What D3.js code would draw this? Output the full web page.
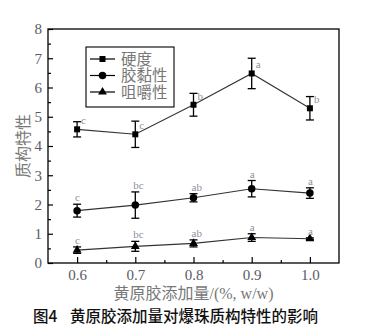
<!DOCTYPE html>
<html><head><meta charset="utf-8">
<script src="https://cdn.jsdelivr.net/npm/d3@7"></script>
<style>body{margin:0;background:#fff}svg{display:block}</style>
</head><body>
<svg id="c" width="382" height="336"></svg>
<script>
const xValues = [0.6, 0.7, 0.8, 0.9, 1.0];
const seriesNames = ["硬度", "胶黏性", "咀嚼性"];
const hardness = [4.57, 4.40, 5.41, 6.48, 5.29];
const hardnessErr = [0.26, 0.45, 0.39, 0.52, 0.40];
const hardnessSig = ["c", "c", "b", "a", "b"];
const adhesiveness = [1.79, 1.98, 2.23, 2.54, 2.39];
const adhesivenessErr = [0.22, 0.45, 0.14, 0.28, 0.18];
const adhesivenessSig = ["c", "bc", "ab", "a", "a"];
const chewiness = [0.44, 0.57, 0.67, 0.87, 0.83];
const chewinessErr = [0.11, 0.17, 0.12, 0.13, 0.03];
const chewinessSig = ["c", "bc", "ab", "a", "a"];
const xTicks = [0.6, 0.7, 0.8, 0.9, 1.0];
const yTicks = [0, 1, 2, 3, 4, 5, 6, 7, 8];
const xTitle = "黄原胶添加量/(%, w/w)";
const yTitle = "质构特性";
const caption = ["图4", "黄原胶添加量对爆珠质构特性的影响"];

const svg = d3.select("#c");
const L = 48, T = 29, R = 339, B = 263;
const x = d3.scaleLinear().domain([0.55, 1.05]).range([L, R]);
const y = d3.scaleLinear().domain([0, 8]).range([B, T]);
const serif = "'Liberation Serif','Times New Roman','Noto Sans CJK SC',serif";
const txt = "#5a5a66";

// frame
svg.append("rect").attr("x", L).attr("y", T).attr("width", R - L).attr("height", B - T)
  .attr("fill", "none").attr("stroke", "#000").attr("stroke-width", 1.3);

// x axis
const xa = svg.append("g").attr("transform", `translate(0,${B})`)
  .call(d3.axisBottom(x).tickValues(xTicks).tickFormat(d3.format(".1f")).tickSizeInner(-6).tickSizeOuter(0).tickPadding(6.5));
xa.select(".domain").remove();
xa.selectAll("line").attr("stroke-width", 1.2);
xa.selectAll("text").attr("font-family", serif).attr("font-size", 15).attr("fill", txt);
const xm = svg.append("g").attr("transform", `translate(0,${B})`)
  .call(d3.axisBottom(x).tickValues([0.65, 0.75, 0.85, 0.95]).tickFormat("").tickSizeInner(-3).tickSizeOuter(0));
xm.select(".domain").remove();
xm.selectAll("line").attr("stroke-width", 1.2);

// y axis
const ya = svg.append("g").attr("transform", `translate(${L},0)`)
  .call(d3.axisLeft(y).tickValues(yTicks).tickSizeInner(-5).tickSizeOuter(0).tickPadding(6));
ya.select(".domain").remove();
ya.selectAll("line").attr("stroke-width", 1.2);
ya.selectAll("text").attr("font-family", serif).attr("font-size", 15).attr("fill", txt);
const ym = svg.append("g").attr("transform", `translate(${L},0)`)
  .call(d3.axisLeft(y).tickValues([0.5, 1.5, 2.5, 3.5, 4.5, 5.5, 6.5, 7.5]).tickFormat("").tickSizeInner(-3).tickSizeOuter(0));
ym.select(".domain").remove();
ym.selectAll("line").attr("stroke-width", 1.2);

// titles
svg.append("text").attr("x", (L + R) / 2).attr("y", 298.5).attr("text-anchor", "middle")
  .attr("font-family", serif).attr("font-size", 16).attr("fill", "#777").text(xTitle);
svg.append("text").attr("transform", `translate(29,${(T + B) / 2}) rotate(-90)`).attr("text-anchor", "middle")
  .attr("font-family", serif).attr("font-size", 16).attr("fill", "#777").text(yTitle);

// series
const series = [
  {name: seriesNames[0], v: hardness, e: hardnessErr, s: hardnessSig, sym: d3.symbolSquare, size: 36, lab: "side"},
  {name: seriesNames[1], v: adhesiveness, e: adhesivenessErr, s: adhesivenessSig, sym: d3.symbolCircle, size: 44, lab: "top"},
  {name: seriesNames[2], v: chewiness, e: chewinessErr, s: chewinessSig, sym: d3.symbolTriangle, size: 34, lab: "top"}
];
const line = d3.line().x((d, i) => x(xValues[i])).y(d => y(d));
series.forEach(sr => {
  const g = svg.append("g");
  g.append("path").attr("d", line(sr.v)).attr("fill", "none").attr("stroke", "#333").attr("stroke-width", 1.1);
  sr.v.forEach((v, i) => {
    const cx = x(xValues[i]), top = y(v + sr.e[i]), bot = y(v - sr.e[i]);
    g.append("line").attr("x1", cx).attr("x2", cx).attr("y1", top).attr("y2", bot).attr("stroke", "#000").attr("stroke-width", 1.3);
    [top, bot].forEach(yy => g.append("line").attr("x1", cx - 4).attr("x2", cx + 4).attr("y1", yy).attr("y2", yy).attr("stroke", "#000").attr("stroke-width", 1.3));
    g.append("path").attr("d", d3.symbol().type(sr.sym).size(sr.size)()).attr("transform", `translate(${cx},${y(v)})`).attr("fill", "#000");
    const lx = sr.lab === "side" ? cx + 4 : cx - 2;
    const ly = sr.lab === "side" ? y(v) - 5 : top - 3;
    g.append("text").attr("x", lx).attr("y", ly).attr("font-family", serif).attr("font-size", 11)
      .attr("fill", "#8a90a0").text(sr.s[i]);
  });
});

// legend
const lg = svg.append("g");
lg.append("rect").attr("x", 86).attr("y", 47).attr("width", 88).attr("height", 60)
  .attr("fill", "#fff").attr("stroke", "#000").attr("stroke-width", 1.1);
series.forEach((sr, i) => {
  const yy = 59 + i * 16.5;
  lg.append("line").attr("x1", 90).attr("x2", 115).attr("y1", yy).attr("y2", yy).attr("stroke", "#000").attr("stroke-width", 1.2);
  lg.append("path").attr("d", d3.symbol().type(sr.sym).size(sr.size)()).attr("transform", `translate(102.5,${yy})`).attr("fill", "#000");
  lg.append("text").attr("x", 121).attr("y", yy + 5.5).attr("font-family", serif).attr("font-size", 15.5)
    .attr("fill", "#777").text(sr.name);
});

// caption
svg.append("text").attr("x", 33).attr("y", 322).attr("font-family", "'Noto Sans CJK SC',sans-serif")
  .attr("font-size", 15.5).attr("font-weight", 500).attr("fill", "#111").text(caption[0]);
svg.append("text").attr("x", 70).attr("y", 322).attr("font-family", "'Noto Sans CJK SC',sans-serif")
  .attr("font-size", 15.5).attr("font-weight", 500).attr("fill", "#111").text(caption[1]);
</script>
</body></html>
